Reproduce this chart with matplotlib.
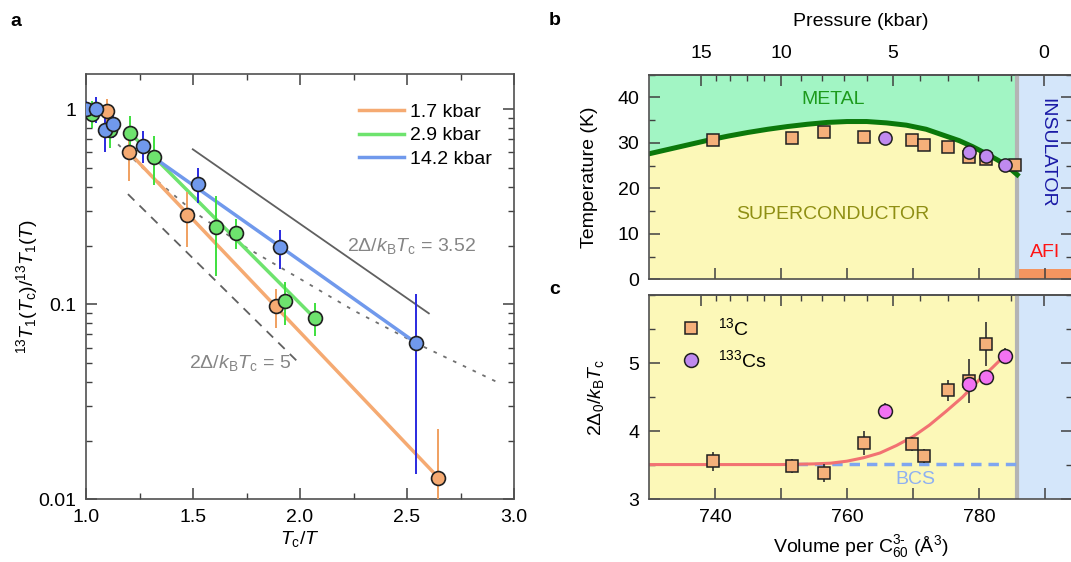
import numpy as np
import matplotlib
matplotlib.use('Agg')
import matplotlib.pyplot as plt
from matplotlib.lines import Line2D
from matplotlib.ticker import NullFormatter, LogLocator, MultipleLocator, FixedLocator

plt.rcParams['font.family'] = ['Liberation Sans', 'DejaVu Sans']
plt.rcParams['mathtext.fontset'] = 'custom'
plt.rcParams['mathtext.rm'] = 'Liberation Sans'
plt.rcParams['mathtext.it'] = 'Liberation Sans:italic'
plt.rcParams['mathtext.bf'] = 'Liberation Sans:bold'
plt.rcParams['font.size'] = 14
plt.rcParams['axes.edgecolor'] = '#505050'
plt.rcParams['axes.linewidth'] = 1.2

# ---- panel a: relaxation rate ratio vs Tc/T ----
x_17 = [1.10, 1.202, 1.47, 1.89, 2.647]
y_17 = [0.98, 0.60, 0.286, 0.098, 0.0129]
e_17 = [0.15, 0.17, 0.09, 0.022, 0.010]

x_29 = [1.026, 1.112, 1.205, 1.317, 1.607, 1.703, 1.93, 2.068]
y_29 = [0.95, 0.78, 0.757, 0.57, 0.25, 0.233, 0.104, 0.085]
e_29 = [0.15, 0.15, 0.17, 0.16, 0.11, 0.04, 0.026, 0.016]

x_142 = [1.0, 1.048, 1.087, 1.126, 1.268, 1.524, 1.906, 2.541]
y_142 = [1.0, 1.0, 0.78, 0.84, 0.65, 0.414, 0.196, 0.0635]
e_142 = [0.10, 0.15, 0.18, 0.13, 0.12, 0.085, 0.045, 0.05]

fit_17_x = [1.202, 2.647]
fit_17_y = [0.60, 0.0129]
fit_29_x = [1.205, 2.068]
fit_29_y = [0.757, 0.085]
fit_142_x = [1.30, 1.906, 2.541]
fit_142_y = [0.583, 0.198, 0.0635]

bcs352_x = [1.499, 2.602]
bcs352_y = [0.623, 0.0898]
gap5_x = [1.196, 1.995]
gap5_y = [0.367, 0.050]
dotted_x = [1.15, 1.30, 1.50, 1.75, 2.00, 2.25, 2.545, 2.94]
dotted_y = [0.66, 0.46, 0.30, 0.195, 0.135, 0.093, 0.063, 0.039]

# ---- panel b: phase diagram ----
tc_vol = [730, 733, 736, 739, 742, 745, 748, 751, 754, 757, 760, 763, 766,
          769, 772, 775, 777, 779, 781, 783, 785, 785.8]
tc_temp = [27.6, 28.6, 29.6, 30.6, 31.5, 32.3, 33.0, 33.6, 34.1, 34.5, 34.7,
           34.7, 34.4, 33.9, 33.0, 31.5, 30.5, 29.2, 27.7, 26.1, 24.0, 23.0]

c13_vol = [739.65, 751.6, 756.5, 762.6, 769.9, 771.6, 775.3, 778.5, 781.1, 785.5]
c13_tc = [30.6, 31.1, 32.5, 31.4, 30.6, 29.6, 29.1, 27.0, 26.4, 25.1]
cs_vol = [765.7, 778.5, 781.1, 783.9]
cs_tc = [31.0, 28.0, 27.2, 25.1]

pressure_major = ['0', '5', '10', '15']
pressure_major_vol = [789.8, 766.9, 750.0, 737.9]
pressure_minor_vol = [784.8, 779.9, 775.3, 771.0, 763.0, 759.5, 756.2, 753.0,
                      747.5, 744.8, 742.3, 740.2]
mi_boundary = 785.8

# ---- panel c: gap ratio vs volume ----
gap_c13_vol = [739.65, 751.6, 756.5, 762.6, 769.9, 771.6, 775.3, 778.5, 781.1]
gap_c13 = [3.56, 3.49, 3.39, 3.83, 3.81, 3.64, 4.60, 4.74, 5.28]
gap_c13_err = [0.14, 0.10, 0.13, 0.18, 0.10, 0.10, 0.15, 0.32, 0.32]
gap_cs_vol = [765.7, 778.5, 781.1, 783.9]
gap_cs = [4.30, 4.69, 4.80, 5.10]
gap_cs_err = [0.12, 0.10, 0.10, 0.12]

guide_vol = [730, 750, 755, 757.5, 760, 762.5, 765, 767.5, 770, 772.5, 775,
             777.5, 780, 782, 784]
guide_gap = [3.51, 3.51, 3.52, 3.53, 3.56, 3.61, 3.68, 3.79, 3.92, 4.09, 4.29,
             4.50, 4.75, 4.93, 5.12]
bcs_value = 3.52
bcs_start = 752.5

orange = '#f5aa72'
green = '#6ee36e'
blue = '#7099ec'

fig = plt.figure(figsize=(10.71, 5.62), dpi=100)
W, H = 1071, 562


def box(l, t, r, b):
    return [l / W, 1 - b / H, (r - l) / W, (b - t) / H]


ax = fig.add_axes(box(86, 74.3, 514, 499.3))
ax_b = fig.add_axes(box(649, 74.7, 1072, 279.3))
ax_c = fig.add_axes(box(649, 295, 1072, 499.3))

# panel a
ax.plot(dotted_x, dotted_y, color='#707070', lw=1.3, ls=(0, (2, 4)))
ax.plot(bcs352_x, bcs352_y, color='#606060', lw=1.3)
ax.plot(gap5_x, gap5_y, color='#606060', lw=1.3, ls=(0, (5, 4)))

ax.plot(fit_17_x, fit_17_y, color=orange, lw=2.5, label='1.7 kbar', zorder=3)
ax.plot(fit_29_x, fit_29_y, color=green, lw=2.5, label='2.9 kbar', zorder=3)
ax.plot(fit_142_x, fit_142_y, color=blue, lw=2.5, label='14.2 kbar', zorder=3)

for xs, ys, es, fc, ec in [(x_17, y_17, e_17, orange, '#f0a060'),
                           (x_29, y_29, e_29, green, '#3ee03e'),
                           (x_142, y_142, e_142, blue, '#2a2ae0')]:
    ax.errorbar(xs, ys, yerr=es, fmt='none', ecolor=ec, elinewidth=1.4, zorder=4)
    ax.plot(xs, ys, 'o', ms=10, mfc=fc, mec='#202020', mew=1.2, zorder=5)

ax.set_yscale('log')
ax.set_xlim(1.0, 3.0)
ax.set_ylim(0.01, 1.51)
ax.set_xticks([1.0, 1.5, 2.0, 2.5, 3.0])
ax.set_xticklabels(['1.0', '1.5', '2.0', '2.5', '3.0'])
ax.xaxis.set_minor_locator(MultipleLocator(0.25))
ax.set_yticks([0.01, 0.1, 1])
ax.set_yticklabels(['0.01', '0.1', '1'])
ax.yaxis.set_minor_locator(LogLocator(base=10, subs=np.arange(2, 10)))
ax.yaxis.set_minor_formatter(NullFormatter())
ax.tick_params(which='both', direction='in', top=True, right=True, color='#404040')
ax.tick_params(which='major', length=8, width=1.1, pad=7)
ax.tick_params(which='minor', length=4, width=1.0)
ax.set_xlabel(r'$T_\mathrm{c}/T$', labelpad=2)
ax.set_ylabel(r'$^{13}T_1(T_\mathrm{c})/^{13}T_1(T)$', labelpad=-1)
ax.text(2.22, 0.2, r'2$\Delta$/$k_\mathrm{B}T_\mathrm{c}$ = 3.52', color='#858585', va='center')
ax.text(1.48, 0.05, r'2$\Delta$/$k_\mathrm{B}T_\mathrm{c}$ = 5', color='#858585', va='center')
ax.legend(loc='upper left', bbox_to_anchor=(0.62, 0.95), frameon=False,
          handlelength=2.3, handletextpad=0.3, labelspacing=0.3, borderaxespad=0)

# panel b
metal = '#a2f5c4'
sc_yellow = '#fcf8b8'
ins_blue = '#d4e6fa'
ax_b.fill_between(tc_vol, tc_temp, 45, color=metal, lw=0, zorder=0)
ax_b.fill_between(tc_vol, 0, tc_temp, color=sc_yellow, lw=0, zorder=0)
ax_b.axvspan(mi_boundary, 800, color=ins_blue, lw=0, zorder=0)
ax_b.axhspan(0, 2.2, xmin=(mi_boundary + 0.3 - 730) / 64.1, xmax=1, color='#f49560', lw=0, zorder=1)
ax_b.axvline(mi_boundary, color='#b4b4b4', lw=3, zorder=1)
ax_b.plot(tc_vol, tc_temp, color='#0b780b', lw=3.6, zorder=2)
ax_b.plot(c13_vol, c13_tc, 's', ms=9, mfc='#f5b07a', mec='#202020', mew=1.1, zorder=3)
ax_b.plot(cs_vol, cs_tc, 'o', ms=9.5, mfc='#c08af0', mec='#202020', mew=1.1, zorder=4)
ax_b.text(757.9, 39.6, 'METAL', color='#1c9a1c', ha='center', va='center')
ax_b.text(757.9, 14.2, 'SUPERCONDUCTOR', color='#8f8f14', ha='center', va='center')
ax_b.text(790.3, 27.8, 'INSULATOR', color='#1a1aa6', ha='center', va='center', rotation=-90)
ax_b.text(790.0, 5.9, 'AFI', color='#ff1414', ha='center', va='center')
ax_b.set_xlim(730, 794.1)
ax_b.set_ylim(0, 45)
ax_b.set_xticks([740, 750, 760, 770, 780, 790])
ax_b.set_yticks([0, 10, 20, 30, 40])
ax_b.yaxis.set_minor_locator(MultipleLocator(5))
ax_b.tick_params(which='both', direction='in', right=True, top=False, labelbottom=False, color='#404040')
ax_b.tick_params(which='major', length=8, width=1.1, pad=7)
ax_b.tick_params(which='minor', length=4, width=1.0)
ax_b.set_ylabel('Temperature (K)', labelpad=14)
top = ax_b.secondary_xaxis('top')
top.set_xticks(pressure_major_vol)
top.set_xticklabels(pressure_major)
top.xaxis.set_minor_locator(FixedLocator(pressure_minor_vol))
top.tick_params(which='both', direction='in', color='#404040')
top.tick_params(which='major', length=8, width=1.1, pad=9)
top.tick_params(which='minor', length=4, width=1.0)
top.set_xlabel('Pressure (kbar)', labelpad=14)

# panel c
ax_c.axvspan(730, mi_boundary, color=sc_yellow, lw=0, zorder=0)
ax_c.axvspan(mi_boundary, 800, color=ins_blue, lw=0, zorder=0)
ax_c.axvline(mi_boundary, color='#b4b4b4', lw=3, zorder=1)
ax_c.plot([bcs_start, mi_boundary], [bcs_value, bcs_value], color='#7fa6f0', lw=2.5,
          ls=(0, (3, 2)), zorder=2)
ax_c.plot(guide_vol, guide_gap, color='#f27272', lw=2.2, zorder=2)
ax_c.errorbar(gap_c13_vol, gap_c13, yerr=gap_c13_err, fmt='none', ecolor='#303030',
              elinewidth=1.2, zorder=3)
ax_c.errorbar(gap_cs_vol, gap_cs, yerr=gap_cs_err, fmt='none', ecolor='#303030',
              elinewidth=1.2, zorder=3)
ax_c.plot(gap_c13_vol, gap_c13, 's', ms=9, mfc='#f5b07a', mec='#202020', mew=1.1, zorder=4)
ax_c.plot(gap_cs_vol, gap_cs, 'o', ms=10, mfc='#f272f2', mec='#202020', mew=1.1, zorder=5)
ax_c.text(770.4, 3.29, 'BCS', color='#8eb0f2', ha='center', va='center')
handles = [Line2D([], [], ls='none', marker='s', ms=9, mfc='#f5b07a', mec='#202020', mew=1.1),
           Line2D([], [], ls='none', marker='o', ms=10, mfc='#c08af0', mec='#202020', mew=1.1)]
ax_c.legend(handles, [r'$^{13}$C', r'$^{133}$Cs'], loc='upper left', bbox_to_anchor=(0.035, 0.93),
            frameon=False, handletextpad=0.4, labelspacing=0.5, borderaxespad=0)
ax_c.set_xlim(730, 794.1)
ax_c.set_ylim(3, 6)
ax_c.set_xticks([740, 750, 760, 770, 780, 790])
ax_c.set_xticklabels(['740', '', '760', '', '780', ''])
ax_c.set_yticks([3, 4, 5])
ax_c.yaxis.set_minor_locator(MultipleLocator(0.5))
ax_c.tick_params(which='both', direction='in', right=True, top=False, color='#404040')
ax_c.tick_params(which='major', length=8, width=1.1, pad=7)
ax_c.tick_params(which='minor', length=4, width=1.0)
ax_c.set_ylabel(r'2$\Delta_0$/$k_\mathrm{B}T_\mathrm{c}$', labelpad=16)
ax_c.set_xlabel(r'Volume per C$_{60}^{3\text{-}}$ ($\mathrm{\AA}^3$)', labelpad=5)
top_c = ax_c.secondary_xaxis('top')
top_c.set_xticks(pressure_major_vol)
top_c.xaxis.set_major_formatter(NullFormatter())
top_c.xaxis.set_minor_locator(FixedLocator(pressure_minor_vol))
top_c.tick_params(which='both', direction='in', color='#404040')
top_c.tick_params(which='major', length=8, width=1.1)
top_c.tick_params(which='minor', length=4, width=1.0)

for lab, xp, yp in [('a', 15.5, 21.7), ('b', 555, 20.7), ('c', 555, 290)]:
    fig.text(xp / W, 1 - yp / H, lab, fontweight='bold', fontsize=14, va='center', ha='center')

fig.savefig('out.png', dpi=100)
